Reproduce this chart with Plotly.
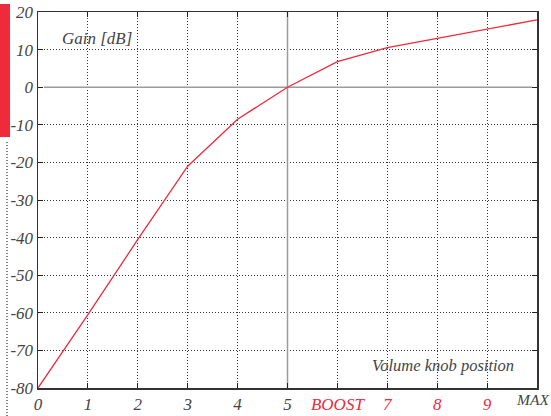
import plotly.graph_objects as go

knob_pos = [0, 1, 2, 3, 4, 5, 6, 7, 8, 9, 10]
gain_db = [-80, -60.5, -40.5, -21, -8.5, 0, 6.8, 10.5, 13.0, 15.5, 17.9]
tick_labels = ["0", "1", "2", "3", "4", "5", "BOOST", "7", "8", "9", "MAX"]
red_labels = {"BOOST", "7", "8", "9"}
y_ticks = [20, 10, 0, -10, -20, -30, -40, -50, -60, -70, -80]

RED = "#ee2a3b"
GREY = "#444444"
FONT = "Liberation Serif"
MAX_NUDGE = 0.08  # label nudged inwards so it stays inside the page

# main axis labels (the last one, MAX, goes on an overlay axis so it can be nudged inwards)
main_vals = knob_pos[:-1]
main_text = [f'<span style="color:{RED}">{t}</span>' if t in red_labels else t
             for t in tick_labels[:-1]]

fig = go.Figure()
fig.add_trace(go.Scatter(x=knob_pos, y=gain_db, mode="lines",
                         line=dict(color=RED, width=1.3), showlegend=False,
                         hoverinfo="skip"))
fig.add_trace(go.Scatter(x=[knob_pos[-1]], y=[gain_db[-1]], xaxis="x2", mode="lines",
                         line=dict(width=0), showlegend=False, hoverinfo="skip"))

axis_common = dict(
    tickfont=dict(family=FONT, size=17, style="italic", color=GREY),
    showgrid=True, gridcolor="#333", griddash="1px,2px", gridwidth=1,
    ticks="inside", ticklen=5, tickcolor="#222",
    showline=True, linecolor="#333", linewidth=1.5, mirror="ticks",
    zeroline=False, fixedrange=True, automargin=False,
    ticklabeloverflow="allow",
)

fig.update_layout(
    width=551, height=416,
    margin=dict(l=38, r=14, t=12, b=28),
    paper_bgcolor="white", plot_bgcolor="white",
    font=dict(family=FONT, color=GREY),
    xaxis=dict(range=[0, 10], tickvals=main_vals, ticktext=main_text, **axis_common),
    xaxis2=dict(range=[0, 10], overlaying="x", anchor="y", side="bottom",
                tickvals=[knob_pos[-1] - MAX_NUDGE], ticktext=[tick_labels[-1]],
                tickfont=dict(family=FONT, size=15.5, style="italic", color=GREY),
                ticks="inside", ticklen=5, tickcolor="rgba(0,0,0,0)",
                showgrid=False, showline=False, zeroline=False,
                fixedrange=True, automargin=False, ticklabeloverflow="allow"),
    yaxis=dict(range=[-80, 20], tickvals=y_ticks, ticktext=[str(v) for v in y_ticks],
               **axis_common),
)

# solid grey reference lines at knob 5 and 0 dB
fig.add_shape(type="line", x0=5, x1=5, y0=-80, y1=20, xref="x", yref="y",
              line=dict(color="#9a9a9a", width=1.5), layer="between")
fig.add_shape(type="line", x0=0.12, x1=9.9, y0=0, y1=0, xref="x", yref="y",
              line=dict(color="#9a9a9a", width=1.5), layer="between")

# red bar and dotted line at left page edge
fig.add_shape(type="rect", xref="paper", yref="paper",
              x0=-38/499, x1=-28/499, y0=(388-137)/376, y1=(388-4)/376,
              fillcolor=RED, line=dict(width=0), layer="above")
fig.add_shape(type="line", xref="paper", yref="paper",
              x0=-31/499, x1=-31/499, y0=(388-416)/376, y1=(388-140)/376,
              line=dict(color="#333", width=1.2, dash="1px,2px"))

fig.add_annotation(x=0.45, y=13, xref="x", yref="y", text="Gain [dB]",
                   showarrow=False, xanchor="left", yanchor="middle",
                   font=dict(family=FONT, size=17, style="italic", color=GREY))
fig.add_annotation(x=6.66, y=-74, xref="x", yref="y", text="Volume knob position",
                   showarrow=False, xanchor="left", yanchor="middle",
                   font=dict(family=FONT, size=16.5, style="italic", color=GREY))

fig.write_html("out.html", config={"displayModeBar": False, "staticPlot": True},
               post_script="document.body.style.margin='0';document.body.style.overflow='hidden';")
